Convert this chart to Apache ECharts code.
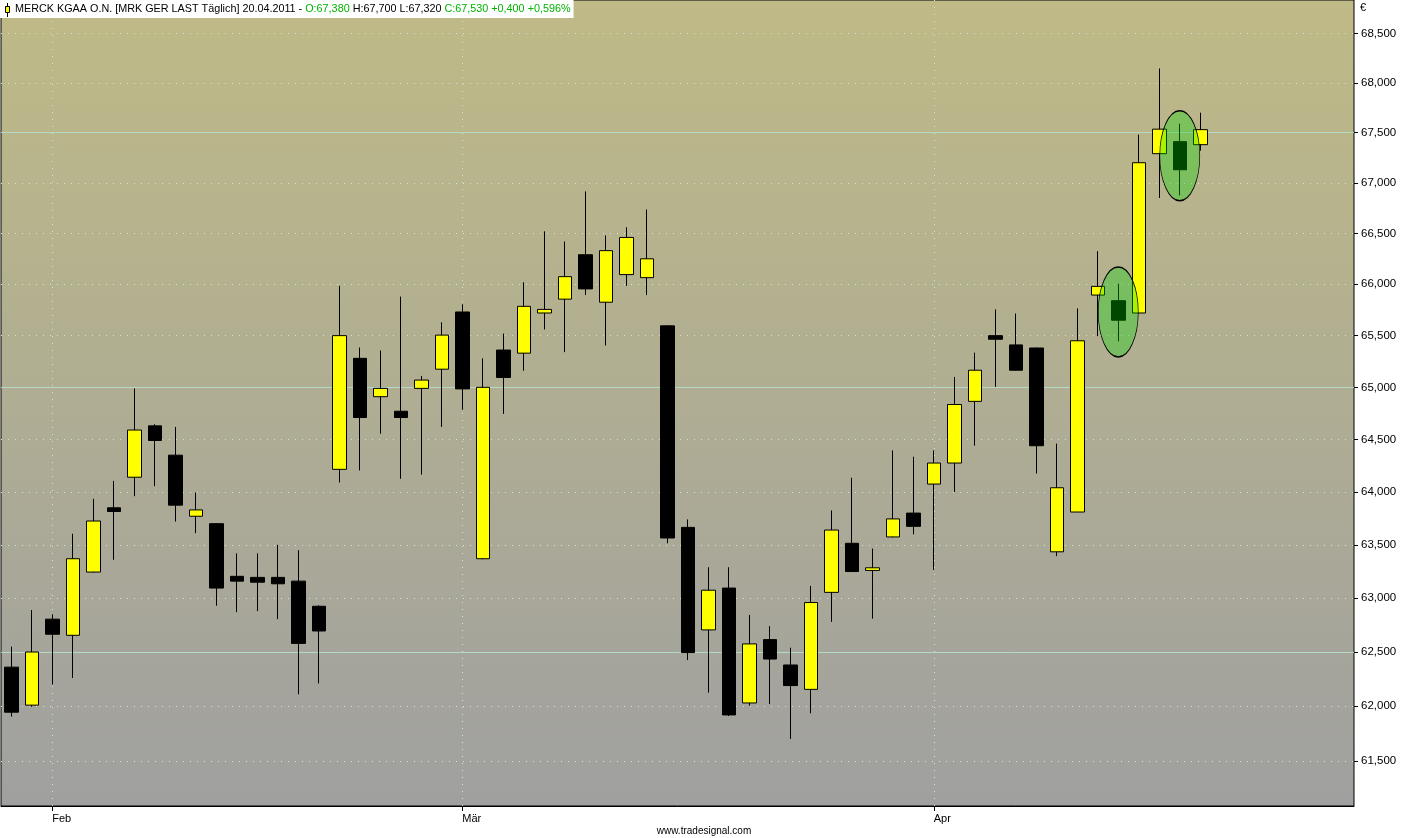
<!DOCTYPE html>
<html>
<head>
<meta charset="utf-8">
<title>MERCK KGAA O.N.</title>
<script src="https://cdn.jsdelivr.net/npm/echarts@6/dist/echarts.min.js"></script>
<style>
html, body { margin: 0; padding: 0; background: #fff; }
#main { width: 1408px; height: 838px; }
</style>
</head>
<body>
<div id="main"></div>
<script>
// Tageskerzen MRK GER, 28.01.2011 - 20.04.2011
var tage = ['2011-01-28','2011-01-31','2011-02-01','2011-02-02','2011-02-03','2011-02-04','2011-02-07','2011-02-08','2011-02-09','2011-02-10','2011-02-11','2011-02-14','2011-02-15','2011-02-16','2011-02-17','2011-02-18','2011-02-21','2011-02-22','2011-02-23','2011-02-24','2011-02-25','2011-02-28','2011-03-01','2011-03-02','2011-03-03','2011-03-04','2011-03-07','2011-03-08','2011-03-09','2011-03-10','2011-03-11','2011-03-14','2011-03-15','2011-03-16','2011-03-17','2011-03-18','2011-03-21','2011-03-22','2011-03-23','2011-03-24','2011-03-25','2011-03-28','2011-03-29','2011-03-30','2011-03-31','2011-04-01','2011-04-04','2011-04-05','2011-04-06','2011-04-07','2011-04-08','2011-04-11','2011-04-12','2011-04-13','2011-04-14','2011-04-15','2011-04-18','2011-04-19','2011-04-20'];
// leerer Platz rechts im Chart
var leereTage = ['2011-04-21','2011-04-26','2011-04-27','2011-04-28','2011-04-29','2011-05-02','2011-05-03'];

var eroeffnung = [62.36,62.01,62.805,62.655,63.245,63.85,64.14,64.63,64.35,63.77,63.70,63.205,63.195,63.195,63.16,62.925,64.215,65.28,64.91,64.77,64.99,65.175,65.73,63.37,65.36,65.33,65.72,65.855,66.29,65.825,66.095,66.065,65.595,63.665,62.705,63.095,62.03,62.615,62.38,62.155,63.055,63.515,63.26,63.575,63.80,64.075,64.275,64.865,65.50,65.41,65.38,63.435,63.81,65.895,65.84,65.72,67.29,67.41,67.38];
var hoch = [62.55,62.89,62.85,63.605,63.935,64.105,64.99,64.645,64.62,63.995,63.705,63.42,63.42,63.50,63.45,62.935,65.985,65.385,65.355,65.88,65.11,65.63,65.805,65.28,65.52,66.02,66.52,66.42,66.915,66.48,66.56,66.735,65.60,63.74,63.29,63.29,62.845,62.74,62.54,63.115,63.825,64.135,63.465,64.395,64.335,64.395,65.10,65.335,65.755,65.715,65.385,64.46,65.765,66.325,66.005,67.48,68.145,67.59,67.70];
var tief = [61.905,61.995,62.20,62.26,63.24,63.36,63.96,64.055,63.72,63.61,62.93,62.87,62.88,62.805,62.11,62.21,64.09,64.205,64.555,64.125,64.165,64.62,64.785,63.365,64.745,65.16,65.56,65.34,65.895,65.405,65.985,65.895,63.515,62.425,62.125,61.91,62.005,62.02,61.70,61.935,62.78,63.245,62.81,63.57,63.60,63.265,64.00,64.44,65.005,65.16,64.175,63.395,63.81,65.495,65.445,65.715,66.85,66.875,67.32];
var schluss = [61.945,62.50,62.665,63.37,63.725,63.815,64.59,64.49,63.875,63.83,63.095,63.16,63.15,63.135,62.58,62.695,65.50,64.71,64.99,64.71,65.07,65.505,64.985,65.00,65.095,65.785,65.755,66.075,65.955,66.33,66.46,66.25,63.565,62.495,63.075,61.92,62.575,62.435,62.19,62.96,63.64,63.25,63.285,63.745,63.675,64.275,64.835,65.165,65.465,65.165,64.44,64.04,65.45,65.98,65.65,67.20,67.535,67.13,67.53];

var kursMarken = [61.5,62,62.5,63,63.5,64,64.5,65,65.5,66,66.5,67,67.5,68,68.5];
var hauptMarken = [62.5,65,67.5];
var monatsAnfang = ['2011-02-01','2011-03-01','2011-04-01'];
var monatsNamen = ['Feb','Mär','Apr'];

// markierte Kerzen (gruene Ellipsen)
var markTage = ['2011-04-14','2011-04-19'];
var markMitte = [65.73, 67.27];

var yUnten = 61.09, yOben = 68.84;   // sichtbarer Bereich, log. Skala

var ln = Math.log;
function fmt(v) { return v.toFixed(3).replace('.', ','); }

var kerzen = [];
for (var i = 0; i < tage.length; i++) {
  kerzen.push([ln(eroeffnung[i]), ln(schluss[i]), ln(tief[i]), ln(hoch[i])]);
}

var n = tage.length - 1;
var diff = schluss[n] - schluss[n - 1];
var proz = diff / schluss[n - 1] * 100;
var titelText = '{b|MERCK KGAA O.N. [MRK GER LAST Täglich] ' + tage[n].split('-').reverse().join('.') + ' - }' +
  '{g|O:' + fmt(eroeffnung[n]) + '}' +
  '{b| H:' + fmt(hoch[n]) + ' L:' + fmt(tief[n]) + ' }' +
  '{g|C:' + fmt(schluss[n]) + ' ' + (diff >= 0 ? '+' : '') + fmt(diff) + ' ' + (proz >= 0 ? '+' : '') + fmt(proz) + '%}';

var schrift = '"Liberation Sans", Arial, sans-serif';
var schmal = '"Liberation Sans Narrow", "Liberation Sans", sans-serif';

function istMonatsAnfang(idx, val) { return monatsAnfang.indexOf(val) >= 0; }

var chartDom = document.getElementById('main');
var myChart = echarts.init(chartDom);
var option;

option = {
  animation: false,
  backgroundColor: '#fff',
  title: {
    text: titelText,
    left: 0,
    top: 0,
    padding: [4, 3, 3, 15],
    backgroundColor: '#fff',
    textStyle: {
      fontWeight: 'normal',
      rich: {
        b: { color: '#000', fontSize: 10.8, fontWeight: 'normal', fontFamily: schrift },
        g: { color: '#00b400', fontSize: 10.8, fontWeight: 'normal', fontFamily: schrift }
      }
    }
  },
  graphic: [
    { type: 'line', z: 100, shape: { x1: 7.5, y1: 3, x2: 7.5, y2: 17 }, style: { stroke: '#000', lineWidth: 1 } },
    { type: 'rect', z: 101, shape: { x: 5.5, y: 6.5, width: 4, height: 6 }, style: { fill: '#ffff00', stroke: '#000', lineWidth: 1 } },
    { type: 'text', z: 100, left: 1360, top: 2, style: { text: '€', fill: '#000', font: '11px ' + schrift } },
    { type: 'text', z: 100, left: 'center', top: 826, style: { text: 'www.tradesignal.com', fill: '#000', font: '10px ' + schmal } }
  ],
  grid: {
    left: 1,
    right: 54,
    top: 0,
    bottom: 32,
    show: true,
    borderColor: '#000',
    borderWidth: 1,
    backgroundColor: {
      type: 'linear', x: 0, y: 0, x2: 0, y2: 1,
      colorStops: [
        { offset: 0, color: '#bfba86' },
        { offset: 1, color: '#a0a0a0' }
      ]
    }
  },
  xAxis: {
    type: 'category',
    data: tage.concat(leereTage),
    boundaryGap: true,
    axisLine: { show: true, lineStyle: { color: '#000', width: 1 } },
    axisTick: { show: true, alignWithLabel: true, interval: istMonatsAnfang, length: 5, lineStyle: { color: '#000' } },
    axisLabel: {
      interval: istMonatsAnfang,
      formatter: function (val) {
        var k = monatsAnfang.indexOf(val);
        return k >= 0 ? monatsNamen[k] : '';
      },
      align: 'left',
      color: '#000',
      fontSize: 11,
      fontFamily: schmal,
      margin: 7
    },
    splitLine: { show: false }
  },
  yAxis: [{
    type: 'value',
    position: 'right',
    min: ln(yUnten),
    max: ln(yOben),
    axisLine: { show: false },
    axisTick: { show: true, length: 4, lineStyle: { color: '#000' }, customValues: kursMarken.map(ln) },
    axisLabel: {
      customValues: kursMarken.map(ln),
      formatter: function (v) { return fmt(Math.exp(v)); },
      color: '#000',
      fontSize: 11.5,
      fontFamily: schrift,
      margin: 7
    },
    splitLine: { show: true, lineStyle: { color: '#d2e6d6', width: 1, type: [1, 6] } }
  }, {
    type: 'value',
    position: 'right',
    min: ln(yUnten),
    max: ln(yOben),
    axisLine: { show: false },
    axisTick: { show: false, customValues: hauptMarken.map(ln) },
    axisLabel: { show: false },
    splitLine: { show: true, lineStyle: { color: '#b4d9c6', width: 1 } }
  }],
  series: [{
    type: 'candlestick',
    name: 'MRK',
    data: kerzen,
    barWidth: 14,
    z: 3,
    itemStyle: {
      color: '#ffff00',
      color0: '#000000',
      borderColor: '#000000',
      borderColor0: '#000000',
      borderWidth: 1
    },
    markLine: {
      silent: true,
      z: 1,
      symbol: 'none',
      label: { show: false },
      lineStyle: { color: '#d2e6d6', width: 1, type: [1, 6] },
      data: monatsAnfang.map(function (d) { return { xAxis: d }; })
    },
    markPoint: {
      silent: true,
      z: 10,
      symbol: 'path://M0,50 A50,50 0 1,1 100,50 A50,50 0 1,1 0,50 Z',
      symbolSize: [40, 90],
      label: { show: false },
      itemStyle: { color: 'rgba(0,215,0,0.33)', borderColor: '#000', borderWidth: 1 },
      data: markTage.map(function (d, k) { return { coord: [d, ln(markMitte[k])] }; })
    }
  }]
};

option && myChart.setOption(option);
</script>
</body>
</html>
